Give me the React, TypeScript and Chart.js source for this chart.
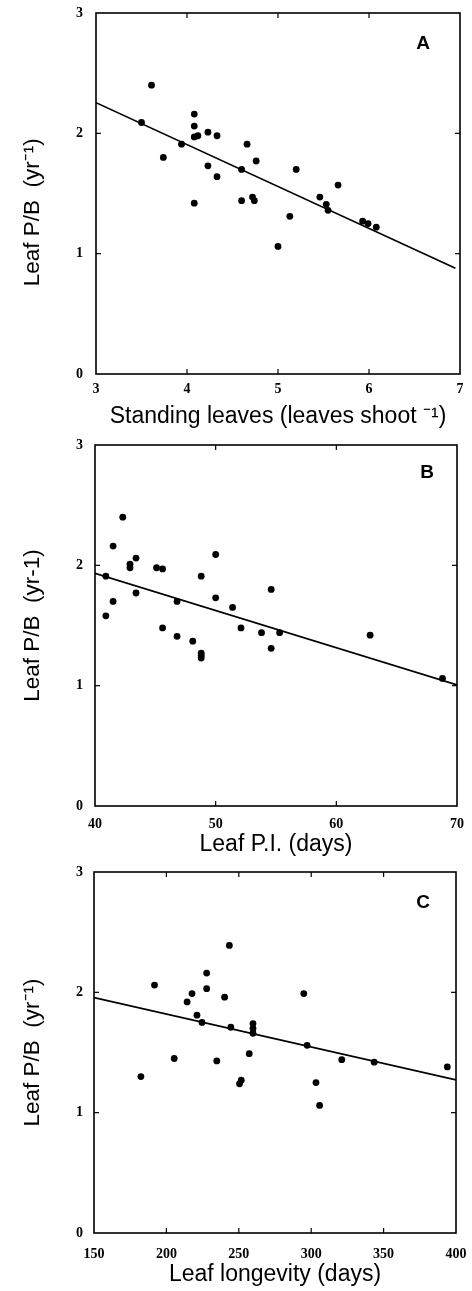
import React, { useEffect, useRef } from "react";
import { Chart, registerables } from "chart.js";

Chart.register(...registerables);

// ---- Panel A: standing leaves vs leaf P/B ----
const standingLeaves = [3.5, 3.61, 3.74, 3.94, 4.08, 4.08, 4.08, 4.12, 4.08, 4.23, 4.23, 4.33, 4.33, 4.6, 4.66, 4.6, 4.72, 4.74, 4.76, 5.0, 5.13, 5.2, 5.46, 5.53, 5.55, 5.66, 5.93, 5.99, 6.08];
const pbA = [2.09, 2.4, 1.8, 1.91, 2.16, 2.06, 1.97, 1.98, 1.42, 2.01, 1.73, 1.98, 1.64, 1.7, 1.91, 1.44, 1.47, 1.44, 1.77, 1.06, 1.31, 1.7, 1.47, 1.41, 1.36, 1.57, 1.27, 1.25, 1.22];
const fitAX = [3, 6.95];
const fitAY = [2.255, 0.878];

// ---- Panel B: leaf P.I. vs leaf P/B ----
const leafPI = [40.9, 40.9, 41.5, 41.5, 42.3, 42.9, 42.9, 43.4, 43.4, 45.1, 45.6, 45.6, 46.8, 46.8, 48.1, 48.8, 48.8, 48.8, 48.8, 50.0, 50.0, 51.4, 52.1, 53.8, 54.6, 54.6, 55.3, 62.8, 68.8];
const pbB = [1.91, 1.58, 2.16, 1.7, 2.4, 2.01, 1.98, 2.06, 1.77, 1.98, 1.97, 1.48, 1.7, 1.41, 1.37, 1.91, 1.27, 1.25, 1.23, 2.09, 1.73, 1.65, 1.48, 1.44, 1.8, 1.31, 1.44, 1.42, 1.06];
const fitBX = [40, 70];
const fitBY = [1.934, 1.006];

// ---- Panel C: leaf longevity vs leaf P/B ----
const longevity = [182.4, 191.8, 205.4, 214.3, 217.7, 221.1, 224.6, 227.8, 227.8, 234.8, 240.2, 243.5, 244.5, 250.5, 251.7, 257.2, 259.8, 259.8, 259.8, 294.9, 297.2, 303.3, 305.8, 321.1, 343.5, 394.0];
const pbC = [1.3, 2.06, 1.45, 1.92, 1.99, 1.81, 1.75, 2.16, 2.03, 1.43, 1.96, 2.39, 1.71, 1.24, 1.27, 1.49, 1.74, 1.7, 1.66, 1.99, 1.56, 1.25, 1.06, 1.44, 1.42, 1.38];
const fitCX = [150, 400];
const fitCY = [1.957, 1.272];

const yTicks = [0, 1, 2, 3];
const xTicksA = [3, 4, 5, 6, 7];
const xTicksB = [40, 50, 60, 70];
const xTicksC = [150, 200, 250, 300, 350, 400];

const letters = ["A", "B", "C"];
const xTitles = ["Standing leaves (leaves shoot \u207B\u00B9)", "Leaf P.I. (days)", "Leaf longevity (days)"];
const yTitles = ["Leaf P/B  (yr\u207B\u00B9)      ", "Leaf P/B  (yr-1)", "Leaf P/B  (yr\u207B\u00B9)"];

const SANS = '"Liberation Sans", Arial, sans-serif';
const SERIF = '"Liberation Serif", "Times New Roman", serif';

const framePlugin = {
  id: "frame",
  afterDraw(chart: any, _args: any, opts: any) {
    const { ctx, chartArea } = chart;
    const { left, right, top, bottom } = chartArea;
    const xs = chart.scales.x;
    const ys = chart.scales.y;
    ctx.save();
    ctx.strokeStyle = "#000";
    ctx.lineWidth = 1.6;
    ctx.strokeRect(left, top, right - left, bottom - top);
    ctx.lineWidth = 1.2;
    const L = 5;
    const seg = (a: number, b: number, c: number, d: number) => {
      ctx.beginPath();
      ctx.moveTo(a, b);
      ctx.lineTo(c, d);
      ctx.stroke();
    };
    xs.ticks.forEach((t: any) => {
      const px = xs.getPixelForValue(t.value);
      if (px <= left + 1 || px >= right - 1) return;
      seg(px, bottom, px, bottom - L);
      seg(px, top, px, top + L);
    });
    ys.ticks.forEach((t: any) => {
      const py = ys.getPixelForValue(t.value);
      if (py <= top + 1 || py >= bottom - 1) return;
      seg(left, py, left + L, py);
      seg(right, py, right - L, py);
    });
    ctx.fillStyle = "#000";
    ctx.font = "bold 19px " + SANS;
    ctx.textAlign = "center";
    ctx.textBaseline = "middle";
    ctx.fillText(opts.letter, right + opts.dx, top + opts.dy);
    ctx.restore();
  },
};

type PanelCfg = {
  xs: number[];
  ys: number[];
  fx: number[];
  fy: number[];
  xTicks: number[];
  letter: string;
  xTitle: string;
  yTitle: string;
  height: number;
  padTop: number;
  padRight: number;
  yWidth: number;
  xHeight: number;
  xTickPad: number;
  yTickPad: number;
  xTitlePad: number;
  dx: number;
  dy: number;
};

const zeroPad = (s: any) => {
  s.paddingTop = 0;
  s.paddingBottom = 0;
  s.paddingLeft = 0;
  s.paddingRight = 0;
};

function makeChart(canvas: HTMLCanvasElement, p: PanelCfg) {
  const pts = p.xs.map((x, i) => ({ x, y: p.ys[i] }));
  const fit = p.fx.map((x, i) => ({ x, y: p.fy[i] }));
  const xMin = p.xTicks[0];
  const xMax = p.xTicks[p.xTicks.length - 1];
  const xStep = p.xTicks[1] - p.xTicks[0];
  return new Chart(canvas, {
    type: "scatter",
    data: {
      datasets: [
        {
          data: fit,
          showLine: true,
          borderColor: "#000",
          borderWidth: 1.7,
          pointRadius: 0,
          fill: false,
        } as any,
        {
          data: pts,
          backgroundColor: "#000",
          borderWidth: 0,
          pointRadius: 3.4,
        },
      ],
    },
    options: {
      animation: false,
      responsive: false,
      devicePixelRatio: 1,
      layout: { padding: { top: p.padTop, right: p.padRight, left: 0, bottom: 0 } },
      plugins: {
        legend: { display: false },
        tooltip: { enabled: false },
        frame: { letter: p.letter, dx: p.dx, dy: p.dy },
      } as any,
      scales: {
        x: {
          type: "linear",
          min: xMin,
          max: xMax,
          afterFit: (s: any) => {
            s.height = p.xHeight;
            zeroPad(s);
          },
          ticks: {
            stepSize: xStep,
            color: "#000",
            padding: p.xTickPad,
            maxRotation: 0,
            font: { family: SERIF, size: 14, weight: "bold" },
            callback: (v: any) => String(v),
          },
          grid: { display: false, drawTicks: false },
          border: { display: false },
          title: {
            display: true,
            text: p.xTitle,
            color: "#000",
            font: { family: SANS, size: 23 },
            padding: { top: 0, bottom: p.xTitlePad },
          },
        },
        y: {
          type: "linear",
          min: 0,
          max: 3,
          afterFit: (s: any) => {
            s.width = p.yWidth;
            zeroPad(s);
          },
          ticks: {
            stepSize: 1,
            color: "#000",
            padding: p.yTickPad,
            font: { family: SERIF, size: 14, weight: "bold" },
            callback: (v: any) => (yTicks.includes(v) ? String(v) : ""),
          },
          grid: { display: false, drawTicks: false },
          border: { display: false },
          title: {
            display: true,
            text: p.yTitle,
            color: "#000",
            font: { family: SANS, size: 22.5 },
            padding: { top: 19, bottom: 0 },
          },
        },
      },
    },
    plugins: [framePlugin as any],
  });
}

const panels: PanelCfg[] = [
  {
    xs: standingLeaves, ys: pbA, fx: fitAX, fy: fitAY, xTicks: xTicksA,
    letter: letters[0], xTitle: xTitles[0], yTitle: yTitles[0],
    height: 430, padTop: 13, padRight: 12, yWidth: 96, xHeight: 56,
    xTickPad: 7, yTickPad: 13, xTitlePad: 0, dx: -37, dy: 31,
  },
  {
    xs: leafPI, ys: pbB, fx: fitBX, fy: fitBY, xTicks: xTicksB,
    letter: letters[1], xTitle: xTitles[1], yTitle: yTitles[1],
    height: 430, padTop: 15, padRight: 15, yWidth: 95, xHeight: 54,
    xTickPad: 10, yTickPad: 12, xTitlePad: 2, dx: -30, dy: 28,
  },
  {
    xs: longevity, ys: pbC, fx: fitCX, fy: fitCY, xTicks: xTicksC,
    letter: letters[2], xTitle: xTitles[2], yTitle: yTitles[2],
    height: 431, padTop: 12, padRight: 16, yWidth: 94, xHeight: 58,
    xTickPad: 13, yTickPad: 11, xTitlePad: 3, dx: -33, dy: 31,
  },
];

export default function App() {
  const refs = [useRef<HTMLCanvasElement>(null), useRef<HTMLCanvasElement>(null), useRef<HTMLCanvasElement>(null)];
  useEffect(() => {
    const charts = panels.map((p, i) => makeChart(refs[i].current as HTMLCanvasElement, p));
    return () => charts.forEach((c) => c.destroy());
  }, []);
  let top = 0;
  return (
    <div style={{ position: "absolute", left: 0, top: 0, width: 472, height: 1291, background: "#fff" }}>
      {panels.map((p, i) => {
        const t = top;
        top += p.height;
        return (
          <canvas
            key={i}
            ref={refs[i]}
            width={472}
            height={p.height}
            style={{ position: "absolute", left: 0, top: t, width: 472, height: p.height, display: "block" }}
          />
        );
      })}
    </div>
  );
}
